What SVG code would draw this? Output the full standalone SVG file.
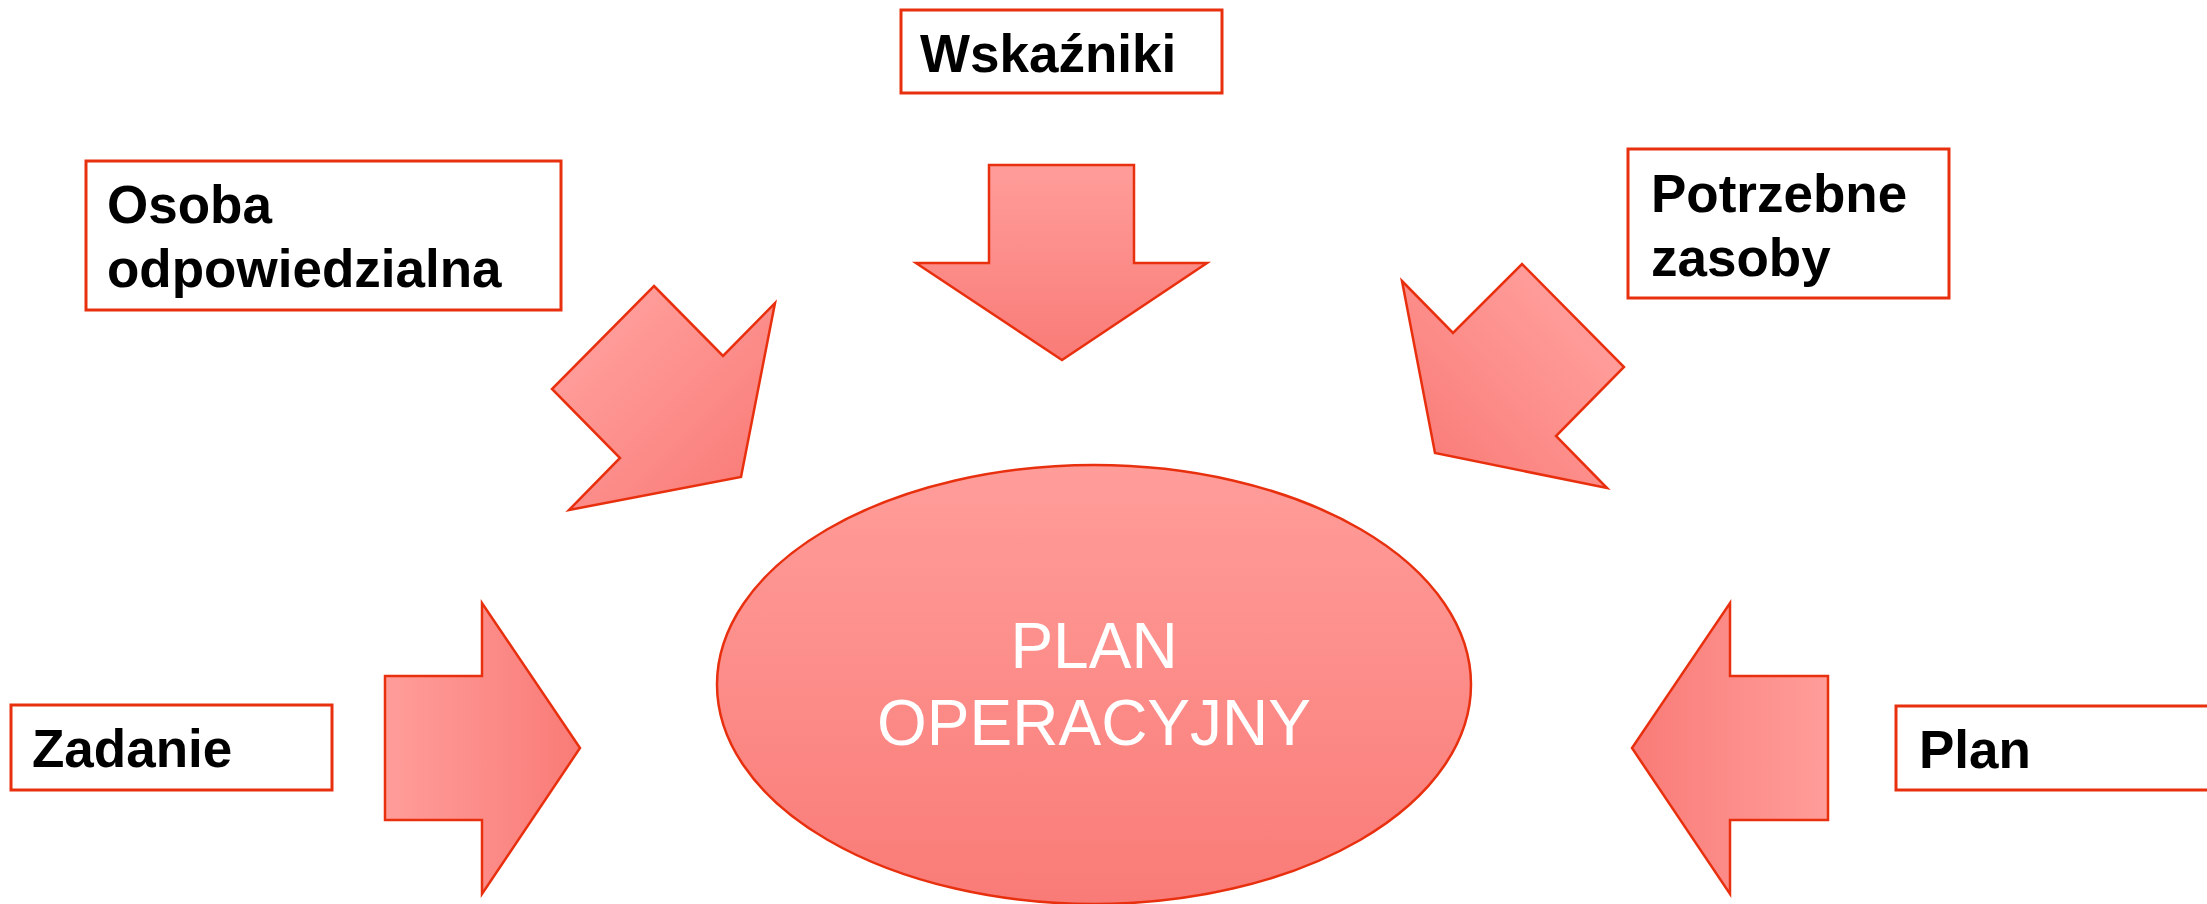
<svg xmlns="http://www.w3.org/2000/svg" width="2207" height="904" viewBox="0 0 2207 904">
  <defs>
    <linearGradient id="gV" x1="0" y1="0" x2="0" y2="1">
      <stop offset="0" stop-color="#FF9D9A"/>
      <stop offset="1" stop-color="#F97B77"/>
    </linearGradient>
    <linearGradient id="gR" x1="0" y1="0" x2="1" y2="0">
      <stop offset="0" stop-color="#FF9D9A"/>
      <stop offset="1" stop-color="#F97B77"/>
    </linearGradient>
    <linearGradient id="gL" x1="1" y1="0" x2="0" y2="0">
      <stop offset="0" stop-color="#FF9D9A"/>
      <stop offset="1" stop-color="#F97B77"/>
    </linearGradient>
    <linearGradient id="gDR" gradientUnits="userSpaceOnUse" x1="600" y1="330" x2="760" y2="490">
      <stop offset="0" stop-color="#FF9D9A"/>
      <stop offset="1" stop-color="#F97B77"/>
    </linearGradient>
    <linearGradient id="gDL" gradientUnits="userSpaceOnUse" x1="1580" y1="320" x2="1420" y2="470">
      <stop offset="0" stop-color="#FF9D9A"/>
      <stop offset="1" stop-color="#F97B77"/>
    </linearGradient>
  </defs>
  <style>
    .box { fill: #FFFFFF; stroke: #E8300F; stroke-width: 3; }
    .arrow { stroke: #E8300F; stroke-width: 2.5; stroke-linejoin: miter; }
    .lbl { font-family: "Liberation Sans", Arial, sans-serif; font-weight: bold; font-size: 53px; fill: #000000; }
    .center { font-family: "Liberation Sans", Arial, sans-serif; font-size: 64px; fill: #FFFFFF; text-anchor: middle; }
  </style>
  <rect width="2207" height="904" fill="#FFFFFF"/>

  <g id="connectors">
    <polygon class="arrow" fill="url(#gV)" points="989,165 1134,165 1134,263 1207,263 1062,360 916,263 989,263"/>
    <polygon class="arrow" fill="url(#gDR)" points="654,286 723,356 775,303 741,477 569,510 620,458 552,389"/>
    <polygon class="arrow" fill="url(#gDL)" points="1402,281 1453,333 1522,264 1624,367 1556,436 1607,488 1435,453"/>
    <polygon class="arrow" fill="url(#gR)" points="385,676 482,676 482,603 580,748 482,894 482,820 385,820"/>
    <polygon class="arrow" fill="url(#gL)" points="1828,676 1730,676 1730,603 1632,748 1730,894 1730,820 1828,820"/>
  </g>

  <g id="plan-operacyjny">
    <ellipse cx="1094" cy="684.5" rx="377" ry="219.5" fill="url(#gV)" stroke="#E8300F" stroke-width="2.5"/>
    <text class="center" x="1094" y="668">PLAN</text>
    <text class="center" x="1094" y="745">OPERACYJNY</text>
  </g>

  <g id="wskazniki">
    <rect class="box" x="901" y="10" width="321" height="83"/>
    <text class="lbl" x="920" y="72">Wskaźniki</text>
  </g>

  <g id="osoba-odpowiedzialna">
    <rect class="box" x="86" y="161" width="475" height="149"/>
    <text class="lbl" x="107" y="223">Osoba</text>
    <text class="lbl" x="107" y="287">odpowiedzialna</text>
  </g>

  <g id="potrzebne-zasoby">
    <rect class="box" x="1628" y="149" width="321" height="149"/>
    <text class="lbl" x="1651" y="212">Potrzebne</text>
    <text class="lbl" x="1651" y="276">zasoby</text>
  </g>

  <g id="zadanie">
    <rect class="box" x="11" y="705" width="321" height="85"/>
    <text class="lbl" x="32" y="767">Zadanie</text>
  </g>

  <g id="plan">
    <rect class="box" x="1896" y="706" width="330" height="84"/>
    <text class="lbl" x="1919" y="768">Plan</text>
  </g>
</svg>
